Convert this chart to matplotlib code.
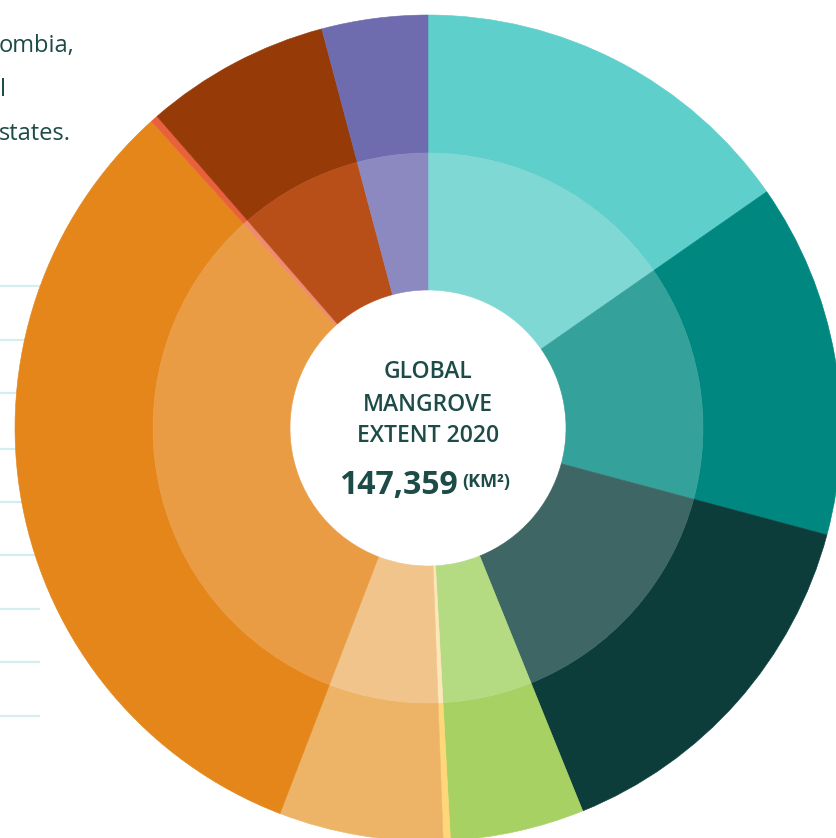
"""
Donut: global mangrove extent 2020, split by region (outer ring + lighter inner ring).
"""
import matplotlib
matplotlib.use("Agg")
import matplotlib.pyplot as plt

W, H = 837, 838

# share of the 147,359 km2 per region, clockwise from 12 o'clock
regiones = ["Region A", "Region B", "Region C", "Region D", "Region E",
            "Region F", "Region G", "Region H", "Region I", "Region J"]
area_km2 = [22554, 20425, 21695, 7727, 418, 9456, 47883, 418, 10684, 6099]
col_ext = ["#5ECFCA", "#00877F", "#0D3D3B", "#A8D164", "#FDD77A",
           "#EDB468", "#E5861A", "#E8603C", "#963A08", "#6E6BAE"]
col_int = ["#80D8D5", "#35A19B", "#3E6664", "#B5DB82", "#FDE6B8",
           "#F0C48A", "#EA9C44", "#EE8A6E", "#B84E18", "#8C89C0"]

titulo = ["GLOBAL", "MANGROVE", "EXTENT 2020"]
total_txt = "147,359"
unidad_txt = "(KM\u00b2)"
parrafo = ["ombia,", "l", "states."]      # restos visibles del parrafo cortado
lineas_y = [286, 340, 393, 449, 502, 555, 609, 662, 716]

TXT = "#1C4B48"
plt.rcParams["font.family"] = ["Open Sans", "DejaVu Sans"]

fig = plt.figure(figsize=(W / 100, H / 100), dpi=100)
ax = fig.add_axes([0, 0, 1, 1])

# lineas de fondo a la izquierda (quedan bajo el donut)
for yy in lineas_y:
    ax.plot([0, 39], [H - yy, H - yy], color="#D6EDED", lw=1.6, zorder=0)

cx, cy = 428, H - 428
wo, _ = ax.pie(area_km2, colors=col_ext, radius=413, center=(cx, cy), startangle=90,
               counterclock=False, wedgeprops=dict(width=138, linewidth=0))
wi, _ = ax.pie(area_km2, colors=col_int, radius=275, center=(cx, cy), startangle=90,
               counterclock=False, wedgeprops=dict(width=137, linewidth=0))
for w in list(wo) + list(wi):
    w.set_edgecolor(w.get_facecolor()); w.set_linewidth(0.4)

ax.set_xlim(0, W); ax.set_ylim(0, H)
ax.set_aspect("auto"); ax.axis("off")

# texto central
for t, yy in zip(titulo, [372, 405, 436]):
    ax.text(cx, H - yy, t, ha="center", va="center", fontsize=16.5,
            fontweight="semibold", color=TXT)
ax.text(458, H - 494, total_txt, ha="right", va="baseline", fontsize=23,
        fontweight="bold", color=TXT)
ax.text(462, H - 487, unidad_txt, ha="left", va="baseline", fontsize=13,
        fontweight="bold", color=TXT)

# parrafo cortado por el borde izquierdo
for t, x, yy in zip(parrafo, [-1, 0.5, -1], [52, 96, 140]):
    ax.text(x, H - yy, t, ha="left", va="baseline", fontsize=17, color=TXT)

fig.savefig("out.png", dpi=100)
